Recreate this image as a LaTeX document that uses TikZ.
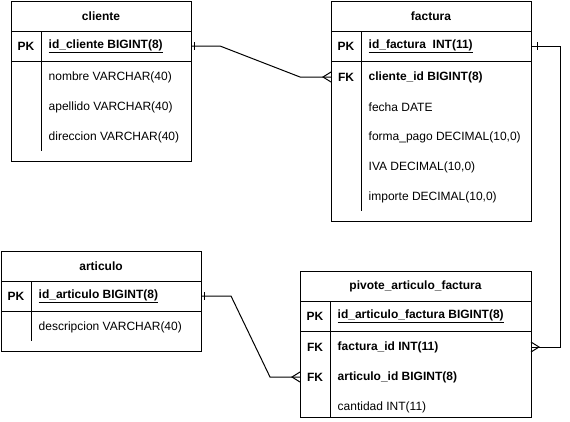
\documentclass[tikz,border=0pt]{standalone}
\usepackage{fontspec}
\setmainfont{Liberation Sans}
\usepackage{tikz}
\usetikzlibrary{calc}
\definecolor{ErLine}{RGB}{0,0,0}
\newcommand{\ftx}{\fontsize{12}{14}\selectfont}
\tikzset{
  tb_frame/.style={
    rectangle, draw=ErLine, line width=1pt,
    anchor=north west, inner sep=0pt, outer sep=0pt},
  tb_line/.style={draw=ErLine, line width=1pt},
  tb_title/.style={font=\ftx\bfseries, inner sep=0pt},
  tb_key/.style={font=\ftx\bfseries, inner sep=0pt},
  tb_fld/.style={font=\ftx, anchor=west, inner sep=0pt},
  tb_fk/.style={tb_fld, font=\ftx\bfseries},
  rel/.style={draw=ErLine, line width=1pt},
}
% one-side tick and many-side crow's foot
\newcommand{\erone}[2]{%
  \draw[rel] ($(#1)+(#2,-4)$) -- ($(#1)+(#2,4)$);}
\newcommand{\ermany}[2]{%
  \draw[rel] ($(#1)+(0,-5)$) -- ($(#1)+(#2,0)$) -- ($(#1)+(0,5)$);}

\begin{document}
\begin{tikzpicture}[x=1pt,y=-1pt]
\useasboundingbox (0,0) rectangle (570,421);

%% cliente
\node[tb_frame, minimum width=180pt, minimum height=160pt] (cli) at (11,1) {};
\draw[tb_line] (11,31) -- (191,31) (11,61) -- (191,61) (41,31) -- (41,151);
\node[tb_title] (cliT)  at (101,16) {cliente};
\node[tb_key]   (cliK1) at (26,46)  {PK};
\node[tb_fld]   (cliF1) at (48.5,46)  {\underline{\bfseries id\_cliente BIGINT(8)}};
\node[tb_fld]   (cliF2) at (48.5,77)  {nombre VARCHAR(40)};
\node[tb_fld]   (cliF3) at (48.5,107) {apellido VARCHAR(40)};
\node[tb_fld]   (cliF4) at (48.5,137) {direccion VARCHAR(40)};

%% factura
\node[tb_frame, minimum width=200pt, minimum height=220pt] (fac) at (331,1) {};
\draw[tb_line] (331,31) -- (531,31) (331,61) -- (531,61) (361,31) -- (361,211);
\node[tb_title] (facT)  at (431,16) {factura};
\node[tb_key]   (facK1) at (346,46) {PK};
\node[tb_key]   (facK2) at (346,77) {FK};
\node[tb_fld]   (facF1) at (368.5,46)  {\underline{\bfseries id\_factura\ \ INT(11)}};
\node[tb_fk]    (facF2) at (368.5,77)  {cliente\_id BIGINT(8)};
\node[tb_fld]   (facF3) at (368.5,107) {fecha DATE};
\node[tb_fld]   (facF4) at (368.5,137) {forma\_pago DECIMAL(10,0)};
\node[tb_fld]   (facF5) at (368.5,167) {IVA DECIMAL(10,0)};
\node[tb_fld]   (facF6) at (368.5,197) {importe DECIMAL(10,0)};

%% articulo
\node[tb_frame, minimum width=200pt, minimum height=100pt] (art) at (1,251) {};
\draw[tb_line] (1,281) -- (201,281) (1,311) -- (201,311) (31,281) -- (31,341);
\node[tb_title] (artT)  at (101,266) {articulo};
\node[tb_key]   (artK1) at (16,296)  {PK};
\node[tb_fld]   (artF1) at (38.5,296) {\underline{\bfseries id\_articulo BIGINT(8)}};
\node[tb_fld]   (artF2) at (38.5,327) {descripcion VARCHAR(40)};

%% pivote_articulo_factura
\node[tb_frame, minimum width=231pt, minimum height=146pt] (piv) at (300,271) {};
\draw[tb_line] (300,301) -- (531,301) (300,331) -- (531,331) (330,301) -- (330,417);
\node[tb_title] (pivT)  at (415.5,286) {pivote\_articulo\_factura};
\node[tb_key]   (pivK1) at (315,316) {PK};
\node[tb_key]   (pivK2) at (315,347) {FK};
\node[tb_key]   (pivK3) at (315,377) {FK};
\node[tb_fld]   (pivF1) at (337.5,316) {\underline{\bfseries id\_articulo\_factura BIGINT(8)}};
\node[tb_fk]    (pivF2) at (337.5,347) {factura\_id INT(11)};
\node[tb_fk]    (pivF3) at (337.5,377) {articulo\_id BIGINT(8)};
\node[tb_fld]   (pivF4) at (337.5,407) {cantidad INT(11)};

%% relations
\coordinate (r1a) at (cli.east |- cliF1);
\coordinate (r1b) at (fac.west |- facF2);
\coordinate (r2a) at (fac.east |- facF1);
\coordinate (r2b) at (piv.east |- pivF2);
\coordinate (r2m) at (560,0);
\coordinate (r3a) at (art.east |- artF1);
\coordinate (r3b) at (piv.west |- pivF3);

\draw[rel] (r1a) -- ++(29,0) -- ($(r1b)+(-31,0)$) -- (r1b);
\draw[rel] (r2a) -- (r2m |- r2a) -- (r2m |- r2b) -- (r2b);
\draw[rel] (r3a) -- ++(30,0) -- ($(r3b)+(-30,0)$) -- (r3b);

\erone{r1a}{3}  \ermany{r1b}{-8}
\erone{r2a}{6}  \ermany{r2b}{8}
\erone{r3a}{3}  \ermany{r3b}{-8}

\end{tikzpicture}
\end{document}
